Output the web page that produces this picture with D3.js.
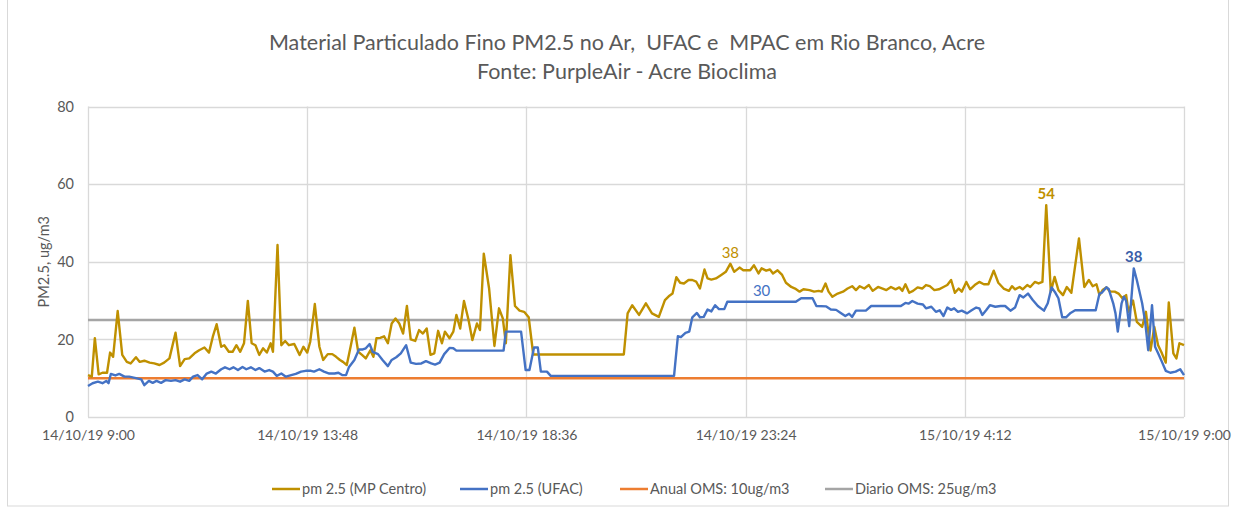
<!DOCTYPE html>
<html>
<head>
<meta charset="utf-8">
<script src="https://cdn.jsdelivr.net/npm/d3@7"></script>
<style>
  body { margin: 0; background: #fff; }
  text { font-family: Lato, "Open Sans", sans-serif; }
</style>
</head>
<body>
<div id="chart"></div>
<script>
// minutes after 14/10/19 9:00, PM2.5 ug/m3
var centroMin = [0,5,9,14,19,25,29,33,39,45,51,56,63,68,74,81,87,94,100,107,115,121,127,133,140,146,153,159,164,169,175,179,185,190,195,200,205,210,215,220,225,230,235,240,243,249,254,259,264,271,278,283,288,
  292,298,304,309,315,321,326,331,335,340,345,350,355,360,365,371,375,379,384,389,394,399,404,409,414,419,424,430,435,440,445,450,455,460,465,469,475,480,484,489,494,500,505,511,515,520,527,534,540,545,549,555,561,567,573,579,
  585,704,709,715,724,733,741,750,758,763,768,773,778,783,789,794,799,804,810,814,819,825,832,838,844,849,856,861,
  870,875,881,885,891,896,900,906,912,917,924,929,935,940,948,954,960,964,969,973,978,985,992,998,1004,1009,1014,1020,1026,1031,1038,1044,1049,1055,1061,1066,1070,1074,1079,1084,1090,1096,1101,1106,1112,1118,1124,1129,1134,1139,1144,1148,
  1154,1159,1165,1171,1177,1183,1190,1196,1203,1210,1214,1218,1224,1228,1234,1238,1244,1249,1254,1259,1265,1270,1275,1281,1286,1292,1302,1309,1315,1320,1325,1329,1333,1338,1343,1349,1354,1359,1364,1367,1373,1378,1385,1390,1396,1401,1406,1411,1416,1420,1426,1430,1434,1440];
var centroPm = [10.8,10.4,20.3,11,11.4,11.4,16.6,15.5,27.3,16,14.2,13.8,15.4,14.2,14.5,14,13.8,13.4,14,15.1,21.7,13.1,14.9,15.1,16.4,17.2,17.9,16.6,20.7,23.9,18.1,18.5,16.8,16.8,18.5,16.8,19,29.9,19,18.5,16,17.7,16.6,19,16.8,44.3,18.5,19.6,18.5,18.8,16,18.1,16.6,
  19.4,29.1,18.1,14.7,16.2,16.2,15.5,14.7,14.2,13.4,18.1,23,16.8,16,15.1,17.2,15.5,20.3,20.4,20.8,19,24.1,25.4,24.1,21.5,28.6,20,19.6,22.4,21.5,22.8,16,16.4,22.2,19,22,20.3,22,26.3,22.8,29.9,25,19.8,24.1,22.4,42.1,33.1,18.3,28,25.4,19,41.7,28.6,27.4,27.1,25.7,
  16.1,16.1,26.7,28.8,26.3,29.3,26.7,25.8,30.1,31.1,31.8,36,34.6,34.4,35.3,35.3,34.9,33.1,38,35.7,35.4,35.7,36.6,37.4,39.5,37.4,38.5,37.8,
  37.8,39.1,37,38.3,37.7,38,37,37.8,36.6,34.6,33.5,33.1,32.3,32.9,32.7,32.3,32.5,32.3,34.4,32.3,31,31.8,32.3,33.1,33.7,32.7,33.7,33.1,34,32.5,33.5,33.1,32.7,33.5,32.9,33.4,32.5,34.2,32,32.5,33.4,33.1,34,33.7,32.7,32.9,33.5,34,35.3,32,33.1,32.3,
  34.8,32.9,34,34.8,34.2,34.2,37.7,34.6,33.1,32.5,33.7,32.9,33.5,32.9,34,33.5,34.8,34.4,34.8,54.6,32.3,36.1,32.7,31.4,33.5,32,46,33.5,35.3,33.7,34.2,31.4,32.7,33.4,32.3,32.3,31.8,30.6,31.4,27.1,30,24.5,23.2,27.1,17.1,23.2,18.5,16.4,14,29.5,16.4,15.1,19,18.5];

var ufacMin = [0,6,13,19,24,27,30,36,41,48,54,63,70,74,80,85,90,96,102,109,115,121,127,133,138,144,150,156,162,168,175,180,186,191,197,203,208,214,220,225,232,238,243,248,254,260,267,273,280,286,
  293,297,304,310,317,324,329,334,339,343,350,356,361,365,370,374,381,387,394,399,405,411,418,424,431,438,444,451,456,462,468,475,480,484,546,549,569,575,580,586,591,595,603,608,
  770,775,779,785,790,794,800,804,809,814,819,824,829,836,840,885,930,937,952,957,970,976,983,989,995,1000,1004,1009,1022,1029,1068,1074,1078,1083,1090,1097,1101,1108,1114,1119,1124,1129,1134,1138,1143,1148,
  1155,1161,1167,1171,1175,1180,1185,1192,1199,1205,1212,1218,1224,1229,1235,1241,1248,1256,1261,1266,1271,1275,1280,1285,1291,1297,1324,1329,1332,1338,1341,1347,1350,1353,1358,1361,1364,1368,1374,1378,1385,1389,1393,1398,1402,1406,1411,1416,1422,1429,1435,1440];
var ufacPm = [8,8.7,9.1,8.7,9.3,8.7,11.1,10.7,11.1,10.4,10.4,10,9.7,8.2,9.3,8.8,9.3,8.8,9.5,9.3,9.5,9.1,9.7,9.3,10.4,10.8,9.7,11.2,11.7,11.2,12.3,12.8,12.3,12.8,12.1,12.9,12.3,12.8,12.1,12.6,11.7,12.1,11.7,10.6,11.2,10.4,10.8,11.1,11.7,11.9,
  11.9,11.7,12.3,11.7,11.2,11.2,11.4,10.8,10.8,12.9,14.7,17.4,17.4,17.7,18.8,16.8,16.2,14.7,13.1,14.7,15.4,16.4,18.5,14,13.7,13.8,14.4,13.8,13.5,14,16.2,17.8,17.7,17.1,17.1,22,22,12.1,12.1,17.9,17.9,11.7,11.7,10.6,
  10.6,20.8,20.6,21.7,22,25.7,26.8,25.7,25.8,27.7,27.2,28.8,27.8,27.8,29.7,29.7,29.7,30.6,30.6,28.6,28.5,27.7,27.6,26.8,26,26.6,25.8,27.4,27.4,28.6,28.6,29.4,29.2,29.9,29.2,29,28,28.4,27.1,27.5,26,28.2,27.6,28,27.1,27.4,
  26.7,27.5,28.2,28,26.3,27.5,28.8,28.4,28.6,28.6,27.4,28.2,31.4,30.8,31.8,30.2,28.6,27.4,29.3,33.4,32,30.6,25.7,25.7,26.8,27.5,27.5,31.8,32,33.4,33,29.3,26.7,22,29.3,31,29.9,23.4,38.3,35.3,29.3,24.5,17.2,28.8,18.1,16.4,14.2,11.9,11.4,11.7,12.3,10.8];

var anualOms = 10, diarioOms = 25;
var yTicks = [0, 20, 40, 60, 80];
var tickMin = [0, 288, 576, 864, 1152, 1440];

// data labels shown on the chart: series, minute of the point, text
var labelSeries = ["centro", "ufac", "centro", "ufac"];
var labelMin = [844, 885, 1259, 1374];
var labelText = ["38", "30", "54", "38"];

var seriesNames = ["pm 2.5 (MP Centro)", "pm 2.5 (UFAC)", "Anual OMS: 10ug/m3", "Diario OMS: 25ug/m3"];
var seriesColors = ["#bf9000", "#4472c4", "#ed7d31", "#a5a5a5"];

var W = 1240, H = 508;
var margin = {left: 88, right: 56, top: 106.5, bottom: 91};
var grey = "#595959";

var start = new Date(2019, 9, 14, 9, 0);
function at(m) { return new Date(+start + m * 60000); }

var svg = d3.select("#chart").append("svg").attr("width", W).attr("height", H);

svg.append("rect")
  .attr("x", 7.5).attr("y", -1).attr("width", 1221).attr("height", 507)
  .attr("fill", "none").attr("stroke", "#d9d9d9");

var x = d3.scaleTime().domain([at(0), at(1440)]).range([margin.left, W - margin.right]);
var y = d3.scaleLinear().domain([0, 80]).range([H - margin.bottom, margin.top]);

// grid
svg.append("g").selectAll("line").data(yTicks).enter().append("line")
  .attr("x1", x.range()[0]).attr("x2", x.range()[1])
  .attr("y1", d => Math.round(y(d)) + 0.5).attr("y2", d => Math.round(y(d)) + 0.5)
  .attr("stroke", "#d9d9d9").attr("stroke-width", 1.3);
svg.append("g").selectAll("line").data(tickMin).enter().append("line")
  .attr("x1", d => Math.round(x(at(d))) + 0.5).attr("x2", d => Math.round(x(at(d))) + 0.5)
  .attr("y1", y(80)).attr("y2", y(0))
  .attr("stroke", "#d9d9d9").attr("stroke-width", 1.3);

// axes
var xAxis = svg.append("g").attr("transform", "translate(0," + y(0) + ")")
  .call(d3.axisBottom(x).tickValues(tickMin.map(at)).tickFormat(d3.timeFormat("%d/%m/%y %-H:%M")).tickSize(0).tickPadding(13));
xAxis.select(".domain").remove();
xAxis.selectAll("text").style("font-size", "14px").style("fill", grey);

var yAxis = svg.append("g").attr("transform", "translate(" + margin.left + ",0)")
  .call(d3.axisLeft(y).tickValues(yTicks).tickSize(0).tickPadding(14));
yAxis.select(".domain").remove();
yAxis.selectAll("text").style("font-size", "14.5px").style("fill", grey);

svg.append("text")
  .attr("transform", "translate(49," + y(40) + ") rotate(-90)")
  .attr("text-anchor", "middle")
  .style("font-size", "14.5px").style("fill", grey)
  .text("PM2.5, ug/m3");

// reference lines
svg.append("line")
  .attr("x1", x(at(0))).attr("x2", x(at(1440)))
  .attr("y1", y(anualOms)).attr("y2", y(anualOms))
  .attr("stroke", seriesColors[2]).attr("stroke-width", 2.5);
svg.append("line")
  .attr("x1", x(at(0))).attr("x2", x(at(1440)))
  .attr("y1", y(diarioOms)).attr("y2", y(diarioOms))
  .attr("stroke", seriesColors[3]).attr("stroke-width", 2.5);

var line = d3.line().x(d => x(at(d[0]))).y(d => y(d[1]));
var centro = d3.zip(centroMin, centroPm);
var ufac = d3.zip(ufacMin, ufacPm);

svg.append("path").datum(centro)
  .attr("d", line).attr("fill", "none")
  .attr("stroke", seriesColors[0]).attr("stroke-width", 2.4).attr("stroke-linejoin", "round");
svg.append("path").datum(ufac)
  .attr("d", line).attr("fill", "none")
  .attr("stroke", seriesColors[1]).attr("stroke-width", 2.4).attr("stroke-linejoin", "round");

// data labels
labelText.forEach(function(t, i) {
  var mins = labelSeries[i] == "centro" ? centroMin : ufacMin;
  var vals = labelSeries[i] == "centro" ? centroPm : ufacPm;
  var k = mins.indexOf(labelMin[i]);
  svg.append("text")
    .attr("x", x(at(labelMin[i])))
    .attr("y", y(vals[k]) - 6)
    .attr("text-anchor", "middle")
    .style("font-size", "15px")
    .style("font-weight", i >= 2 ? "bold" : "normal")
    .style("fill", labelSeries[i] == "centro" ? "#bf9000" : (i == 3 ? "#3a5ea8" : "#4472c4"))
    .text(t);
});

// title
svg.append("text").attr("x", 627).attr("y", 50).attr("text-anchor", "middle")
  .style("font-size", "21.5px").style("white-space", "pre").style("fill", grey)
  .text("Material Particulado Fino PM2.5 no Ar,  UFAC e  MPAC em Rio Branco, Acre");
svg.append("text").attr("x", 627).attr("y", 79).attr("text-anchor", "middle")
  .style("font-size", "21.5px").style("fill", grey)
  .text("Fonte: PurpleAir - Acre Bioclima");

// legend
var legendX = [272, 460, 620, 825];
var leg = svg.append("g").selectAll("g").data(seriesNames).enter().append("g")
  .attr("transform", (d, i) => "translate(" + legendX[i] + ",489)");
leg.append("line").attr("x1", 0).attr("x2", 28)
  .attr("stroke", (d, i) => seriesColors[i]).attr("stroke-width", 2.5);
leg.append("text").attr("x", 30).attr("dy", "0.35em")
  .style("font-size", "14.5px").style("fill", grey)
  .text(d => d);
</script>
</body>
</html>
